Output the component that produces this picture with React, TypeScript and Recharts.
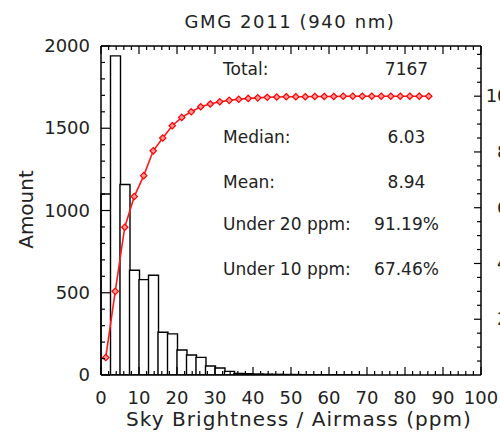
import React from 'react';
import { ComposedChart, Bar, Line, XAxis, YAxis } from 'recharts';

// Histogram bins (lower edge of each 2.5 ppm bin)
const binStarts = [
  0, 2.5, 5, 7.5, 10, 12.5, 15, 17.5, 20, 22.5,
  25, 27.5, 30, 32.5, 35, 37.5, 40, 42.5, 45, 47.5,
  50, 52.5, 55, 57.5, 60, 62.5, 65, 67.5, 70, 72.5,
  75, 77.5, 80, 82.5, 85, 87.5, 90, 92.5, 95, 97.5,
];
// Counts per bin
const counts = [
  1100, 1940, 1158, 637, 580, 606, 260, 250, 152, 122,
  107, 55, 43, 22, 10, 8, 6, 5, 4, 3,
  3, 2, 2, 1, 1, 1, 1, 0, 0, 0,
  0, 0, 0, 0, 0, 0, 0, 0, 0, 0,
];
// Cumulative percentage (right axis), one point per bin centre
const cumPct = [
  6.3, 30, 53, 64, 71.5, 80.4, 85, 89.4, 92.4, 94.4,
  96.2, 97.2, 98.0, 98.5, 98.9, 99.2, 99.4, 99.6, 99.7, 99.8,
  99.8, 99.8, 99.9, 99.9, 99.9, 100, 100, 100, 100, 100,
  100, 100, 100, 100, 100,
];

const xMajor = [0, 10, 20, 30, 40, 50, 60, 70, 80, 90, 100];
const leftMajor = [0, 500, 1000, 1500, 2000];
const rightMajor = [20, 40, 60, 80, 100];

const range = (a: number, b: number, s: number) => {
  const out: number[] = [];
  for (let v = a; v <= b + 1e-9; v += s) out.push(Math.round(v * 100) / 100);
  return out;
};
const xTicks = range(0, 100, 2);
const leftTicks = range(0, 2000, 100);
const rightTicks = range(5, 115, 5);

const title = 'GMG 2011 (940 nm)';
const xLabel = 'Sky Brightness / Airmass (ppm)';
const yLabel = 'Amount';
const statLabels = ['Total:', 'Median:', 'Mean:', 'Under 20 ppm:', 'Under 10 ppm:'];
const statValues = ['7167', '6.03', '8.94', '91.19%', '67.46%'];
const statBaselines = [74.5, 142.5, 188, 229.5, 274.5];

const data = binStarts.map((s, i) => ({
  bin: s,
  count: counts[i],
  x: s + 1.25,
  pct: i < cumPct.length ? cumPct[i] : null,
}));

const FONT = 'DejaVu Sans';
const TXT = '#222';

const BottomTick = (p: any) => {
  const major = xMajor.includes(p.payload.value);
  return (
    <g>
      <line x1={p.x} y1={p.y} x2={p.x} y2={p.y - (major ? 8 : 4)} stroke="#000" strokeWidth={1.2} />
      {major && (
        <text x={p.x} y={p.y + 29} textAnchor="middle" fontSize={18} fontFamily={FONT} fill={TXT}>
          {p.payload.value}
        </text>
      )}
    </g>
  );
};

const TopTick = (p: any) => {
  const major = xMajor.includes(p.payload.value);
  return <line x1={p.x} y1={p.y} x2={p.x} y2={p.y + (major ? 8 : 4)} stroke="#000" strokeWidth={1.2} />;
};

const LeftTick = (p: any) => {
  const major = leftMajor.includes(p.payload.value);
  return (
    <g>
      <line x1={p.x} y1={p.y} x2={p.x + (major ? 9 : 4)} y2={p.y} stroke="#000" strokeWidth={1.2} />
      {major && (
        <text x={p.x - 11} y={p.y + 6} textAnchor="end" fontSize={18} fontFamily={FONT} fill={TXT}>
          {p.payload.value}
        </text>
      )}
    </g>
  );
};

const RightTick = (p: any) => {
  const major = rightMajor.includes(p.payload.value);
  return (
    <g>
      <line x1={p.x} y1={p.y} x2={p.x - (major ? 7 : 4)} y2={p.y} stroke="#000" strokeWidth={1.2} />
      {major && (
        <text x={p.x + 39} y={p.y + 6} textAnchor="end" fontSize={18} fontFamily={FONT} fill={TXT}>
          {p.payload.value}
        </text>
      )}
    </g>
  );
};

const Dot = (p: any) => {
  if (p.cx == null || p.cy == null || p.value == null) return null;
  const r = 3.2;
  return (
    <path
      d={`M${p.cx},${p.cy - r} L${p.cx + r},${p.cy} L${p.cx},${p.cy + r} L${p.cx - r},${p.cy} Z`}
      fill="#ff9a9a"
      stroke="#ff0000"
      strokeWidth={1.2}
    />
  );
};

export default function App() {
  return (
    <div style={{ position: 'absolute', left: 0, top: 0, width: 500, height: 436, background: '#fff' }}>
      <ComposedChart
        width={500}
        height={436}
        data={data}
        margin={{ top: 36, right: 0, bottom: 0, left: 0 }}
        barCategoryGap={0}
        barGap={0}
        style={{ fontFamily: FONT }}
      >
        <XAxis
          xAxisId="num"
          dataKey="x"
          type="number"
          domain={[0, 100]}
          ticks={xTicks}
          interval={0}
          allowDataOverflow
          height={61}
          tickSize={0}
          tickMargin={0}
          tickLine={false}
          axisLine={{ stroke: '#000', strokeWidth: 1.5 }}
          tick={<BottomTick />}
        />
        <XAxis
          xAxisId="top"
          orientation="top"
          dataKey="x"
          type="number"
          domain={[0, 100]}
          ticks={xTicks}
          interval={0}
          allowDataOverflow
          height={10}
          tickSize={0}
          tickMargin={0}
          tickLine={false}
          axisLine={{ stroke: '#000', strokeWidth: 1.5 }}
          tick={<TopTick />}
        />
        <XAxis xAxisId="bins" dataKey="bin" type="category" hide height={0} />
        <YAxis
          yAxisId="left"
          domain={[0, 2000]}
          ticks={leftTicks}
          interval={0}
          allowDataOverflow
          width={101}
          tickSize={0}
          tickMargin={0}
          tickLine={false}
          axisLine={{ stroke: '#000', strokeWidth: 1.5 }}
          tick={<LeftTick />}
        />
        <YAxis
          yAxisId="right"
          orientation="right"
          domain={[0, 118]}
          ticks={rightTicks}
          interval={0}
          allowDataOverflow
          width={19}
          tickSize={0}
          tickMargin={0}
          tickLine={false}
          axisLine={{ stroke: '#000', strokeWidth: 1.5 }}
          tick={<RightTick />}
        />
        <Bar
          xAxisId="bins"
          yAxisId="left"
          dataKey="count"
          fill="#fff"
          stroke="#000"
          strokeWidth={1.4}
          isAnimationActive={false}
        />
        <Line
          xAxisId="num"
          yAxisId="right"
          dataKey="pct"
          stroke="#ff1a1a"
          strokeWidth={1.6}
          dot={<Dot />}
          activeDot={false}
          isAnimationActive={false}
        />
        <text x={290} y={28} textAnchor="middle" fontSize={18} letterSpacing={1.6} fontFamily={FONT} fill={TXT}>
          {title}
        </text>
        <text x={299} y={426} textAnchor="middle" fontSize={20} letterSpacing={1.05} fontFamily={FONT} fill={TXT}>
          {xLabel}
        </text>
        <text transform="translate(33,209.5) rotate(-90)" textAnchor="middle" fontSize={20} fontFamily={FONT} fill={TXT}>
          {yLabel}
        </text>
        {statLabels.map((l, i) => (
          <g key={l}>
            <text x={223} y={statBaselines[i]} fontSize={17} fontFamily={FONT} fill={TXT}>
              {l}
            </text>
            <text x={406.5} y={statBaselines[i]} textAnchor="middle" fontSize={17} fontFamily={FONT} fill={TXT}>
              {statValues[i]}
            </text>
          </g>
        ))}
      </ComposedChart>
    </div>
  );
}
